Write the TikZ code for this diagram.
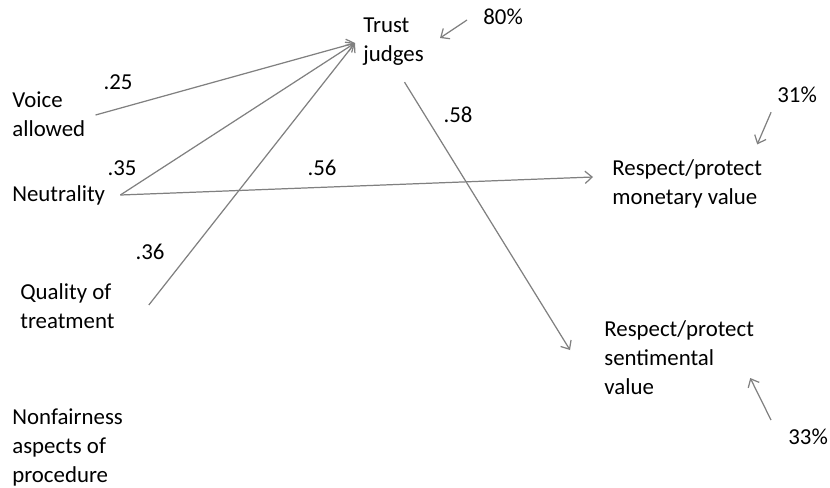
\documentclass[tikz,border=0pt]{standalone}
\usepackage{fontspec}
\setmainfont{Carlito}
\usepackage{tikz}
\usetikzlibrary{positioning,arrows.meta}

\begin{document}
\begin{tikzpicture}[x=0.02cm, y=-0.02cm, font=\fontsize{13}{16.5}\selectfont,
		lbl/.style={inner sep=0pt, anchor=west, align=left},
		coef/.style={inner sep=0pt},
		path/.style={draw=linegray, line width=0.7pt, -{Straight Barb[length=4pt,width=7pt]}}]
			% Define colors
			\definecolor{linegray}{HTML}{808080}
			
			% Canvas
			\useasboundingbox (0,0) rectangle (830,487);
			
			% Variables
			\node[lbl] (trust) at (363,42) {Trust\\judges};
			\node[lbl] (voice) at (12,114) {Voice\\allowed};
			\node[lbl] (neutral) at (12,195) {Neutrality};
			\node[lbl] (quality) at (20,306) {Quality of\\treatment};
			\node[lbl] (nonfair) at (12,447) {Nonfairness\\aspects of\\procedure};
			\node[lbl] (money) at (612,184) {Respect/protect\\monetary value};
			\node[lbl] (sent) at (604,358) {Respect/protect\\sentimental\\value};
			
			% Explained variance
			\node[lbl] (rtrust) at (483,17) {80\%};
			\node[lbl] (rmoney) at (777,95) {31\%};
			\node[lbl] (rsent) at (788,437) {33\%};
			
			% Path coefficients
			\node[coef] (c25) at (118,82) {.25};
			\node[coef] (c35) at (122,168) {.35};
			\node[coef] (c56) at (322,168) {.56};
			\node[coef] (c36) at (150,252) {.36};
			\node[coef] (c58) at (458,115) {.58};
			
			% Paths
			\draw[path] ([shift={(10,1)}]voice.east) -- ([shift={(-8,1)}]trust.west);
			\draw[path] ([shift={(15,0)}]neutral.east) -- ([shift={(-8,1)}]trust.west);
			\draw[path] ([shift={(34,-1)}]quality.east) -- ([shift={(-8,1)}]trust.west);
			\draw[path] ([shift={(15,0)}]neutral.east) -- ([shift={(-19,-7)}]money.west);
			\draw[path] ([shift={(11,16)}]trust.south) -- ([shift={(-34,-8)}]sent.west);
			
			% Residual arrows
			\draw[path] ([shift={(-16,3)}]rtrust.west) -- ([shift={(16,-4)}]trust.east);
			\draw[path] ([shift={(-26,9)}]rmoney.south) -- ([shift={(-5,-15)}]money.north east);
			\draw[path] ([shift={(-17,-17)}]rsent.west) -- ([shift={(-4,20)}]sent.east);
		\end{tikzpicture}
\end{document}
